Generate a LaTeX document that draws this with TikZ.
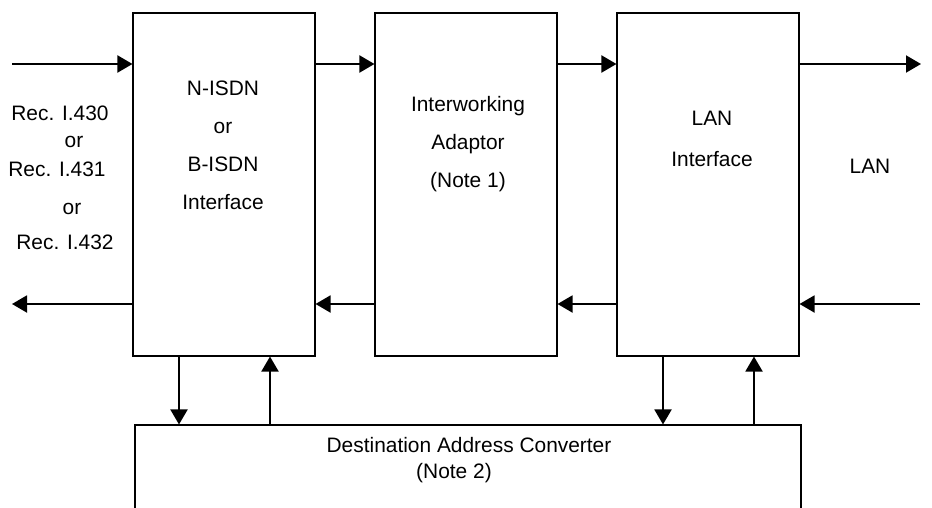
\documentclass[tikz,border=0pt]{standalone}
\usepackage{fontspec}
\setmainfont{Liberation Sans}
\usetikzlibrary{arrows.meta,positioning}
\tikzset{font=\fontsize{11.9}{21.6}\selectfont}
\tikzstyle{blk}=[draw,line width=0.6pt,minimum width=3.64cm,minimum height=6.86cm,inner sep=0pt]
\tikzstyle{txt}=[align=center,inner sep=0pt]
\tikzstyle{sig}=[line width=1.1pt,-{Triangle[length=3mm,width=3.4mm]}]

\begin{document}
\begin{tikzpicture}
\clip (0,0) rectangle (18.64,-10.16);
% blocks
\node[blk] (isdn) at (4.48,-3.69) {};
\node[blk] (iwa) at (9.32,-3.69) {};
\node[blk] (lanif) at (14.16,-3.69) {};
\node[draw,line width=0.6pt,minimum width=13.32cm,minimum height=1.74cm,inner sep=0pt] (dac) at (9.36,-9.37) {};
% texts
\node[txt] (isdntxt) at (4.46,-2.90) {N-ISDN\\or\\B-ISDN\\Interface};
\node[txt] (iwatxt) at (9.36,-2.88) {Interworking\\Adaptor\\(Note 1)};
\node[txt] (laniftxt) at (14.24,-2.77) {LAN\\[1.7pt]Interface};
\node[txt] (lantxt) at (17.40,-3.32) {LAN};
\node[txt] (reca) at (1.20,-2.26) {Rec. I.430};
\node[txt] (ora) at (1.48,-2.84) {or};
\node[txt] (recb) at (1.14,-3.38) {Rec. I.431};
\node[txt] (orb) at (1.44,-4.18) {or};
\node[txt] (recc) at (1.30,-4.84) {Rec. I.432};
\node[txt] (dactxt) at (9.38,-8.90) {Destination Address Converter};
\node[txt] (notetxt) at (9.08,-9.46) {(Note 2)};
% free ends
\coordinate (inA) at (0.24,-1.28);
\coordinate (outA) at (18.42,-1.28);
\coordinate (outB) at (0.24,-6.08);
\coordinate (inB) at (18.40,-6.08);
\coordinate (dn1) at (3.58,0);
\coordinate (up1) at (5.40,0);
\coordinate (dn2) at (13.26,0);
\coordinate (up2) at (15.08,0);
\path[sig]
(inA) edge (isdn.west |- inA)
(isdn.east |- inA) edge (iwa.west |- inA)
(iwa.east |- inA) edge (lanif.west |- inA)
(lanif.east |- inA) edge (outA)
(isdn.west |- outB) edge (outB)
(iwa.west |- outB) edge (isdn.east |- outB)
(lanif.west |- outB) edge (iwa.east |- outB)
(inB) edge (lanif.east |- outB)
(isdn.south -| dn1) edge (dac.north -| dn1)
(dac.north -| up1) edge (isdn.south -| up1)
(lanif.south -| dn2) edge (dac.north -| dn2)
(dac.north -| up2) edge (lanif.south -| up2);
\end{tikzpicture}
\end{document}
